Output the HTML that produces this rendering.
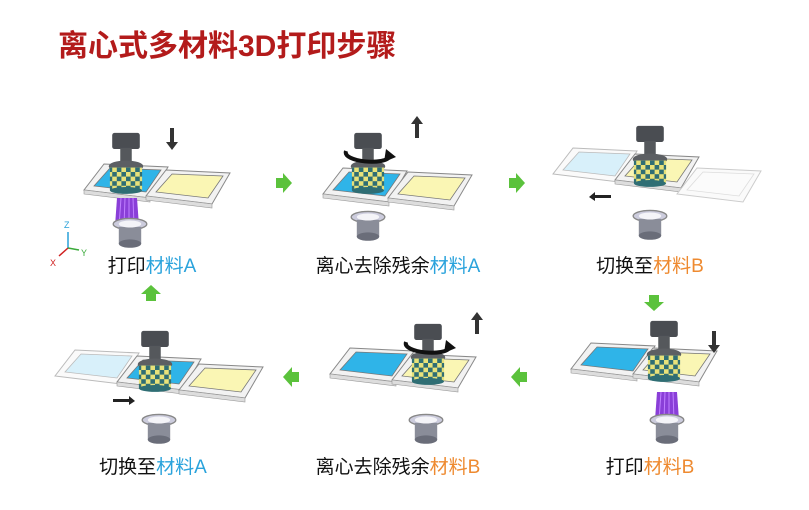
<!DOCTYPE html>
<html><head><meta charset="utf-8"><style>
body{margin:0;background:#fff;width:809px;height:510px;overflow:hidden}
svg{display:block}
text{font-family:"Liberation Sans","Noto Sans CJK SC",sans-serif}
</style></head><body>
<svg width="809" height="510" viewBox="0 0 809 510" xmlns="http://www.w3.org/2000/svg">
<defs>
<pattern id="chk" width="8" height="8" patternUnits="userSpaceOnUse">
<rect width="8" height="8" fill="#2f6e74"/><rect width="4" height="4" fill="#e8e27a"/><rect x="4" y="4" width="4" height="4" fill="#e8e27a"/>
</pattern>
<g id="trayB"><polygon points="-2,-2,62,1,44,32,-22,24" fill="#f2f2f2" stroke="#888" stroke-width="1"/><polygon points="4,2,55,4,40,26,-12,20" fill="#2fb4e8" stroke="#777" stroke-width="0.8"/><polygon points="-22,24,44,32,44,36,-22,28" fill="#ddd" stroke="#999" stroke-width="0.6"/></g>
<g id="trayY"><polygon points="-2,-2,62,1,44,32,-22,24" fill="#f2f2f2" stroke="#888" stroke-width="1"/><polygon points="4,2,55,4,40,26,-12,20" fill="#faf6b4" stroke="#777" stroke-width="0.8"/><polygon points="-22,24,44,32,44,36,-22,28" fill="#ddd" stroke="#999" stroke-width="0.6"/></g>
<g id="trayF"><polygon points="-2,-2,62,1,44,32,-22,24" fill="#fafafa" stroke="#bbb" stroke-width="1"/><polygon points="4,2,55,4,40,26,-12,20" fill="#d8f0fa" stroke="#bbb" stroke-width="0.8"/></g>
<g id="trayFW"><polygon points="-2,-2,62,1,44,32,-22,24" fill="#fafafa" stroke="#ccc" stroke-width="1"/><polygon points="4,2,55,4,40,26,-12,20" fill="#fbfbfb" stroke="#ddd" stroke-width="0.8"/></g>
<g id="head0">
<rect x="-12" y="-34" width="24" height="14" rx="2" fill="#4a4d52"/>
<rect x="-5" y="-21" width="10" height="13" fill="#55585c"/>
<ellipse cx="0" cy="-5" rx="15" ry="5" fill="#5c5f63"/>
<rect x="-14" y="-4" width="28" height="20" fill="url(#chk)"/>
<ellipse cx="0" cy="16" rx="14" ry="3" fill="#2f6e74"/>
</g>
<g id="head"><use href="#head0" transform="scale(1.15)"/></g>
<g id="lens0"><ellipse cx="0" cy="0" rx="12" ry="4" fill="#ccd" stroke="#888"/><rect x="-8" y="2" width="16" height="12" fill="#8a8d99"/><ellipse cx="0" cy="14" rx="8" ry="3" fill="#6a6d79"/><ellipse cx="0" cy="0" rx="8" ry="2.5" fill="#f4f4f8"/></g>
<g id="lens"><use href="#lens0" transform="scale(1.4)"/></g>
<g id="beam"><polygon points="-10,0 10,0 12,28 -12,28" fill="#8a3fd8"/><path d="M-6,0 L-8,28 M-2,0 L-3,28 M2,0 L2,28 M6,0 L7,28" stroke="#c080ff" stroke-width="1"/></g>
<polygon id="garrow" points="-7,-5 0,-5 0,-10 9,0 0,10 0,5 -7,5" fill="#5bc23c"/>
<g id="darr"><rect x="-2" y="-14" width="4" height="16" fill="#333"/><polygon points="-6,0 6,0 0,8" fill="#333"/></g>
<g id="uarr"><rect x="-2" y="-2" width="4" height="16" fill="#333"/><polygon points="-6,0 6,0 0,-8" fill="#333"/></g>
<g id="rot"><path d="M-22,-5 C-26,6 18,10 22,0" fill="none" stroke="#111" stroke-width="4"/><polygon points="18,-7 28,1 16,6" fill="#111"/></g>
</defs>

<text x="58" y="56" font-size="30" font-weight="bold" fill="#b31b1b">离心式多材料3D打印步骤</text>

<!-- P1 -->
<use href="#trayB" x="106" y="166"/><use href="#trayY" x="168" y="172"/>
<use href="#beam" x="127" y="198"/><use href="#lens" x="130" y="224"/>
<use href="#head" x="126" y="172"/><use href="#darr" x="172" y="142"/>
<g font-size="9"><line x1="68" y1="248" x2="68" y2="232" stroke="#29a0d8" stroke-width="1.5"/><text x="64" y="228" fill="#29a0d8">Z</text>
<line x1="68" y1="248" x2="79" y2="250" stroke="#3aaa3a" stroke-width="1.5"/><text x="81" y="256" fill="#3aaa3a">Y</text>
<line x1="68" y1="248" x2="59" y2="256" stroke="#d02020" stroke-width="1.5"/><text x="50" y="266" fill="#d02020">X</text></g>
<g font-size="19" text-anchor="middle" fill="#111">
<text x="152" y="272">打印<tspan fill="#2aa3dc">材料A</tspan></text>
<text x="398" y="272">离心去除残余<tspan fill="#2aa3dc">材料A</tspan></text>
<text x="650" y="272">切换至<tspan fill="#ee8a30">材料B</tspan></text>
<text x="650" y="473">打印<tspan fill="#ee8a30">材料B</tspan></text>
<text x="398" y="473">离心去除残余<tspan fill="#ee8a30">材料B</tspan></text>
<text x="153" y="473">切换至<tspan fill="#2aa3dc">材料A</tspan></text>
</g>

<use href="#garrow" x="283" y="183"/>

<!-- P2 -->
<use href="#trayB" x="345" y="170"/><use href="#trayY" x="410" y="174"/>
<use href="#head" x="368" y="172"/><use href="#rot" x="368" y="156"/>
<use href="#uarr" x="417" y="124"/><use href="#lens" x="368" y="217"/>

<use href="#garrow" x="516" y="183"/>

<!-- P3 -->
<use href="#trayF" x="575" y="150"/><use href="#trayY" x="637" y="156"/><use href="#trayFW" x="699" y="170"/>
<use href="#head" x="650" y="165"/>
<g transform="translate(603,197)"><rect x="-8" y="-2" width="16" height="3" fill="#222"/><polygon points="-8,-5 -8,4 -14,0" fill="#222"/></g>
<use href="#lens" x="650" y="216"/>

<use href="#garrow" transform="translate(654,302) rotate(90)"/>

<!-- P6 -->
<use href="#trayB" x="593" y="345"/><use href="#trayY" x="655" y="350"/>
<use href="#head" x="664" y="360"/><use href="#beam" x="667" y="392"/><use href="#lens" x="667" y="420"/>
<use href="#darr" x="714" y="345"/>

<use href="#garrow" transform="translate(520,377) rotate(180)"/>

<!-- P5 -->
<use href="#trayB" x="352" y="350"/><use href="#trayY" x="414" y="356"/>
<use href="#head" x="428" y="363"/><use href="#rot" x="428" y="347"/>
<use href="#uarr" x="477" y="320"/><use href="#lens" x="426" y="420"/>

<use href="#garrow" transform="translate(292,377) rotate(180)"/>

<!-- P4 -->
<use href="#trayF" x="77" y="352"/><use href="#trayB" x="139" y="358"/><use href="#trayY" x="201" y="366"/>
<use href="#head" x="155" y="370"/>
<g transform="translate(121,401)"><rect x="-8" y="-2" width="16" height="3" fill="#222"/><polygon points="8,-5 8,4 14,0" fill="#222"/></g>
<use href="#lens" x="159" y="420"/>

<use href="#garrow" transform="translate(151,294) rotate(-90)"/>
</svg>
</body></html>
